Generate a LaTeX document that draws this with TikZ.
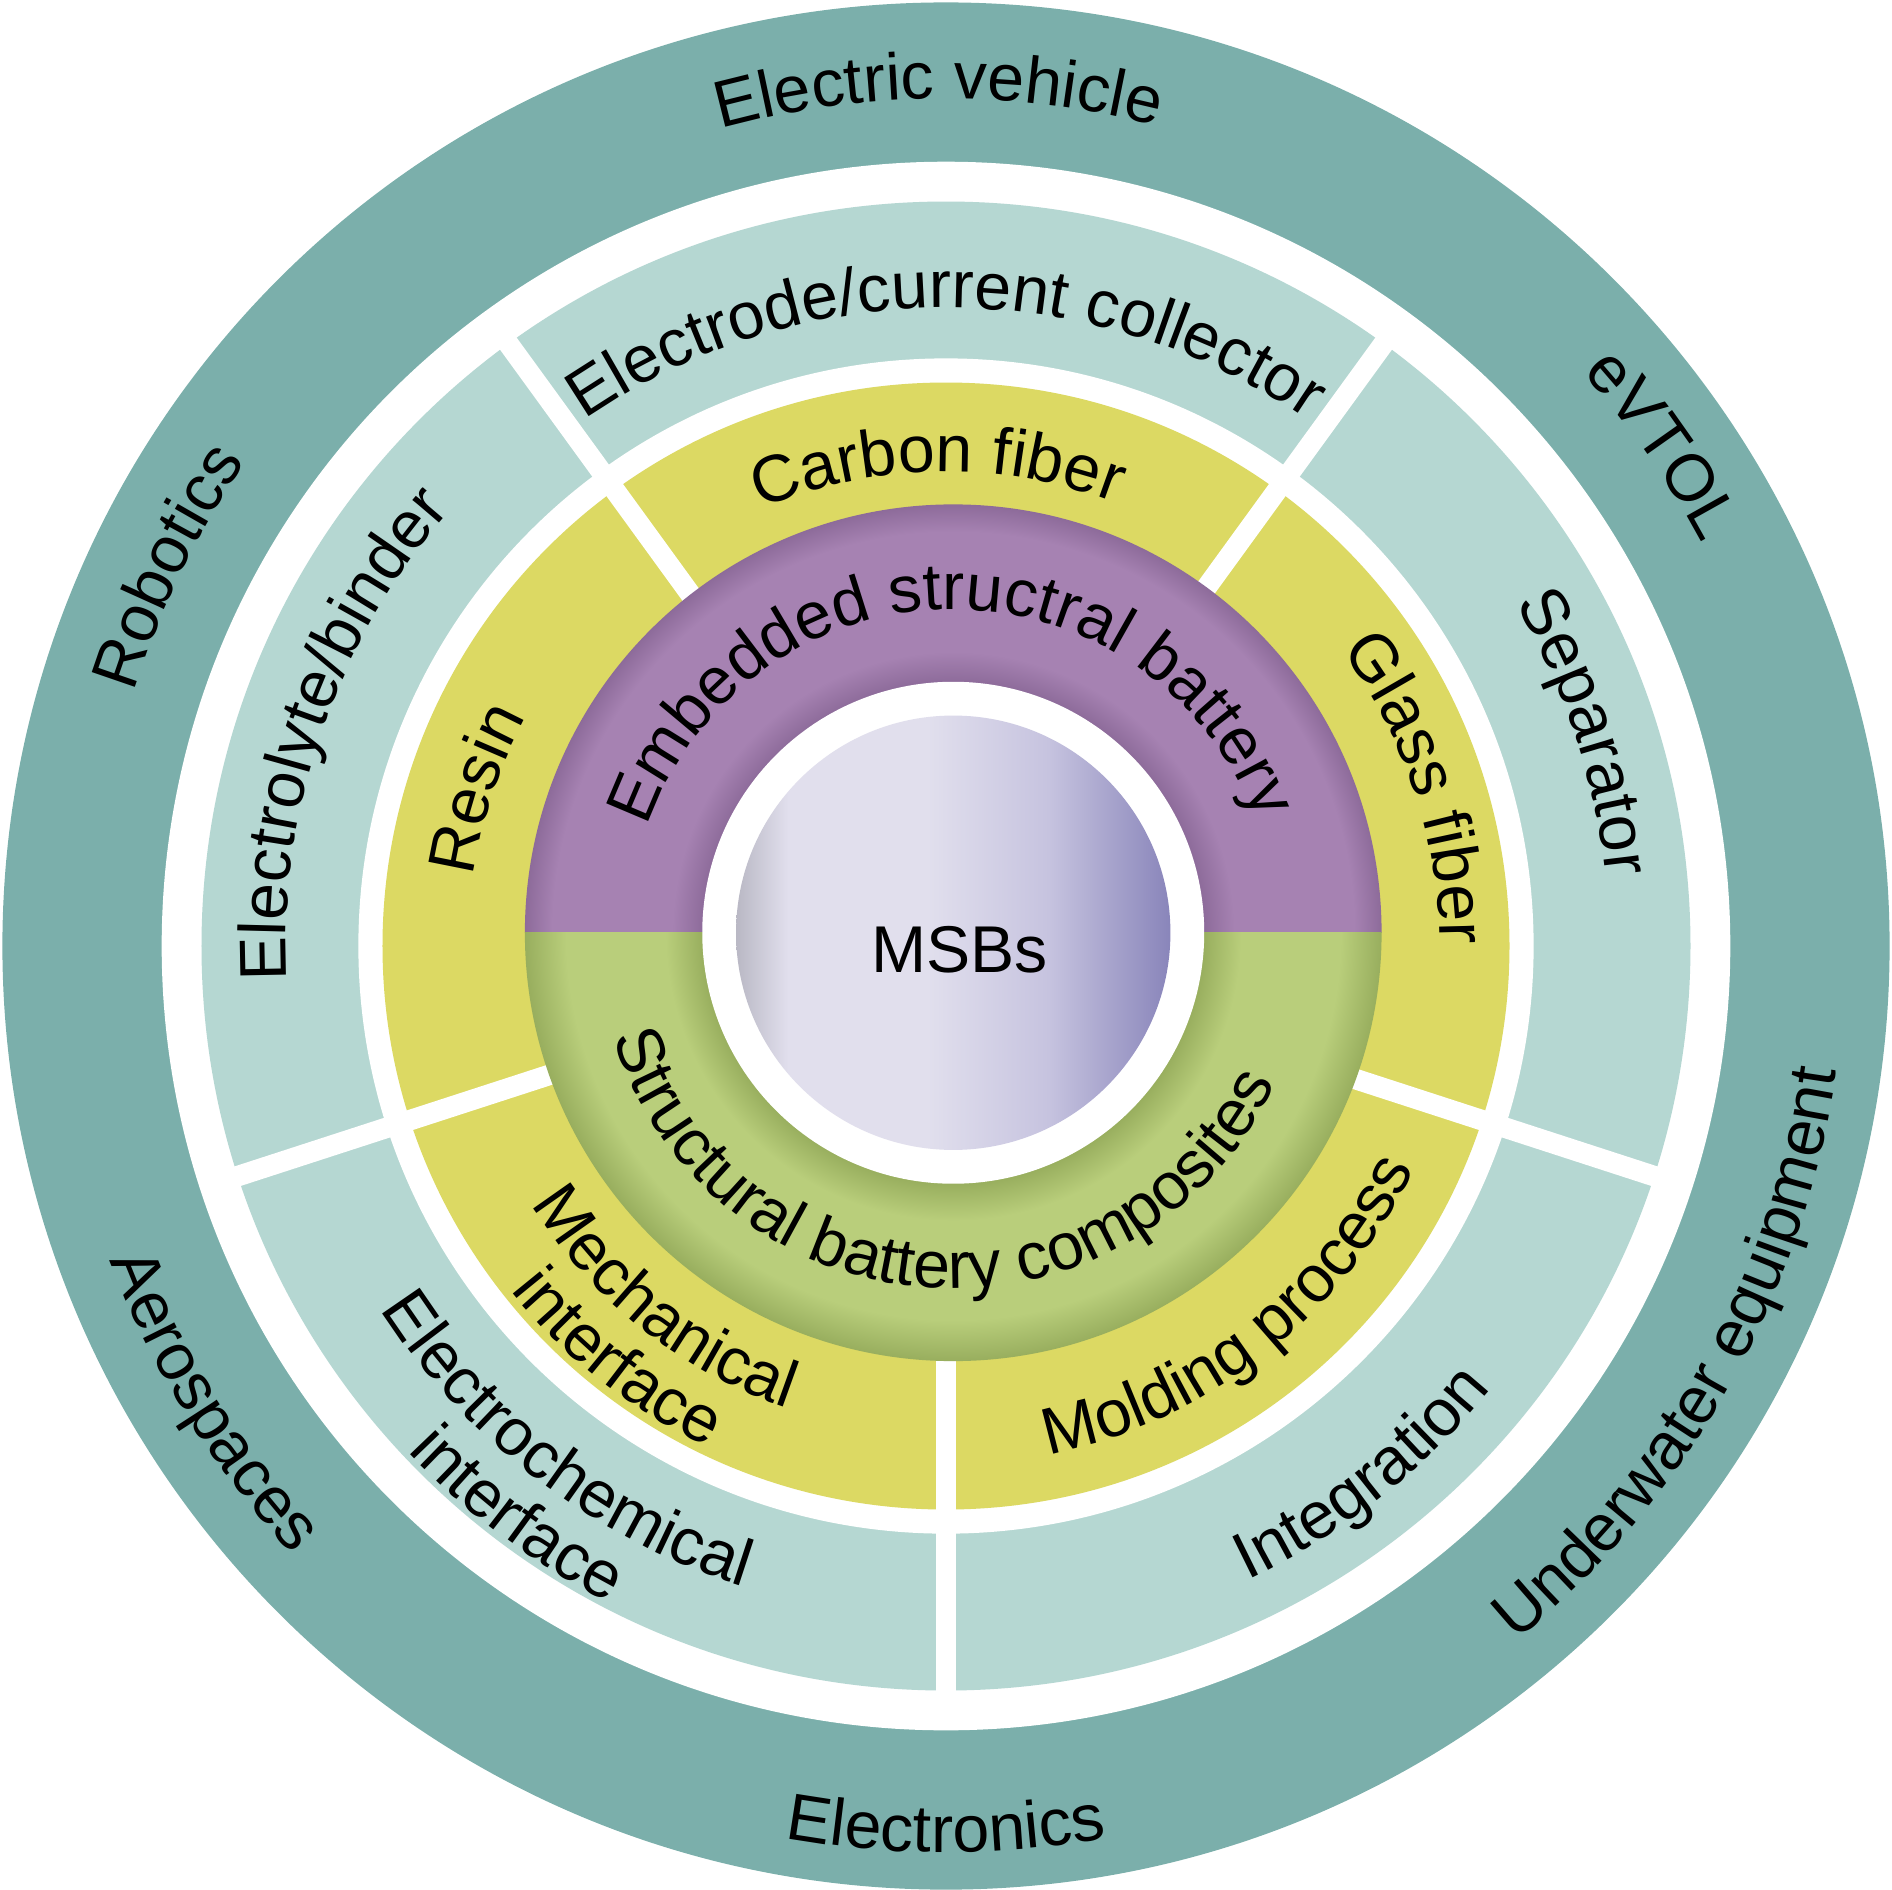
\documentclass[tikz,border=0pt]{standalone}
\usepackage{fontspec}
\setmainfont{Liberation Sans}
\usetikzlibrary{decorations.text}

\definecolor{apptealc}{HTML}{7BAFAB}
\definecolor{parttealc}{HTML}{B5D7D2}
\definecolor{matyellowc}{HTML}{DCD963}
\definecolor{embpurplec}{HTML}{A682B2}
\definecolor{embpurpledk}{HTML}{8D6B9A}
\definecolor{compgreenc}{HTML}{B9CE7B}
\definecolor{compgreendk}{HTML}{98AE5E}
\definecolor{sphgray}{HTML}{B9B8C4}
\definecolor{sphlight}{HTML}{E1DFED}
\definecolor{sphmid}{HTML}{C6C3DF}
\definecolor{sphdark}{HTML}{8985BA}

% shadings: 25bp = outer edge of the shaded disc
\pgfdeclareradialshading{purplering}{\pgfpoint{0bp}{0bp}}{%
  color(0bp)=(embpurpledk); color(14.6bp)=(embpurpledk); color(16.4bp)=(embpurplec);
  color(23.4bp)=(embpurplec); color(25bp)=(embpurpledk); color(50bp)=(embpurpledk)}
\pgfdeclareradialshading{greenring}{\pgfpoint{0bp}{0bp}}{%
  color(0bp)=(compgreendk); color(14.6bp)=(compgreendk); color(16.8bp)=(compgreenc);
  color(22.6bp)=(compgreenc); color(25bp)=(compgreendk); color(50bp)=(compgreendk)}
\pgfdeclarehorizontalshading{msbball}{100bp}{%
  color(0bp)=(sphgray); color(25bp)=(sphgray); color(31bp)=(sphlight); color(47bp)=(sphlight);
  color(61bp)=(sphmid); color(75bp)=(sphdark); color(100bp)=(sphdark)}

\newcommand{\lblfont}{\fontsize{15.6}{18}\selectfont}
% clockwise arc label (letters upright outward) and counter-clockwise one (upright inward)
\newcommand{\cwlabel}[3]{\path[ringtext={#3}] ({#2+85}:#1) arc[start angle={#2+85}, end angle={#2-85}, radius=#1];}
\newcommand{\ccwlabel}[3]{\path[ringtext={#3}] ({#2-85}:#1) arc[start angle={#2-85}, end angle={#2+85}, radius=#1];}

\begin{document}
\begin{tikzpicture}[
    ringtext/.style={decorate, decoration={text along path, text align=center,
        text={|\lblfont|#1}}},
    gapline/.style={white, line width=1.7mm},
  ]
  \useasboundingbox (-7.84,-7.82) rectangle (7.84,7.84);

  % --- Rings ---
  \fill[apptealc]   (0,0) circle (7.82);
  \fill[white]      (0,0) circle (6.50);
  \fill[parttealc]  (0,0) circle (6.17);
  \fill[white]      (0,0) circle (4.87);
  \fill[matyellowc] (0,0) circle (4.67);

  % --- Dividers between the segments ---
  \foreach \a in {54,126,198,270,342}
    \draw[gapline] (\a:3.4) -- (\a:6.3);

  % --- Applications ---
  \cwlabel{7.05}{154}{Robotics}
  \cwlabel{7.02}{90.5}{Electric vehicle}
  \cwlabel{7.10}{35}{eVTOL}
  \ccwlabel{7.40}{211.8}{Aerospaces}
  \ccwlabel{7.51}{270}{Electronics}
  \ccwlabel{7.45}{330.7}{Underwater equipment}

  % --- Components ---
  \cwlabel{5.47}{160.8}{Electrolyte/binder}
  \cwlabel{5.29}{90}{Electrode/current collector}
  \cwlabel{5.50}{18.5}{Separator}
  \ccwlabel{5.82}{308.2}{Integration}
  \ccwlabel{5.57}{232.6}{Electrochemical}
  \ccwlabel{6.12}{233}{interface}

  % --- Materials and processes ---
  \cwlabel{3.96}{161.5}{Resin}
  \cwlabel{3.93}{91}{Carbon fiber}
  \cwlabel{4.09}{18.5}{Glass fiber}
  \ccwlabel{4.30}{308}{Molding process}
  \ccwlabel{4.05}{231.5}{Mechanical}
  \ccwlabel{4.60}{231.5}{interface}

  % --- Core: two battery types round the MSBs ball ---
  \begin{scope}[shift={(0.06,0.11)}]
    \begin{scope}
      \clip (-3.7,0) rectangle (3.7,3.7);
      \shade[shading=purplering] (0,0) circle (3.55);
    \end{scope}
    \begin{scope}
      \clip (-3.7,0) rectangle (3.7,-3.7);
      \shade[shading=greenring] (0,0) circle (3.55);
    \end{scope}
    \fill[white] (0,0) circle (2.08);
    \shade[shading=msbball] (0,0) circle (1.80);
    \node (msbs) at (0.05,-0.14) {\lblfont MSBs};
    \cwlabel{2.68}{90.6}{Embedded structral battery}
    \ccwlabel{2.95}{266}{Structural battery composites}
  \end{scope}
\end{tikzpicture}
\end{document}
